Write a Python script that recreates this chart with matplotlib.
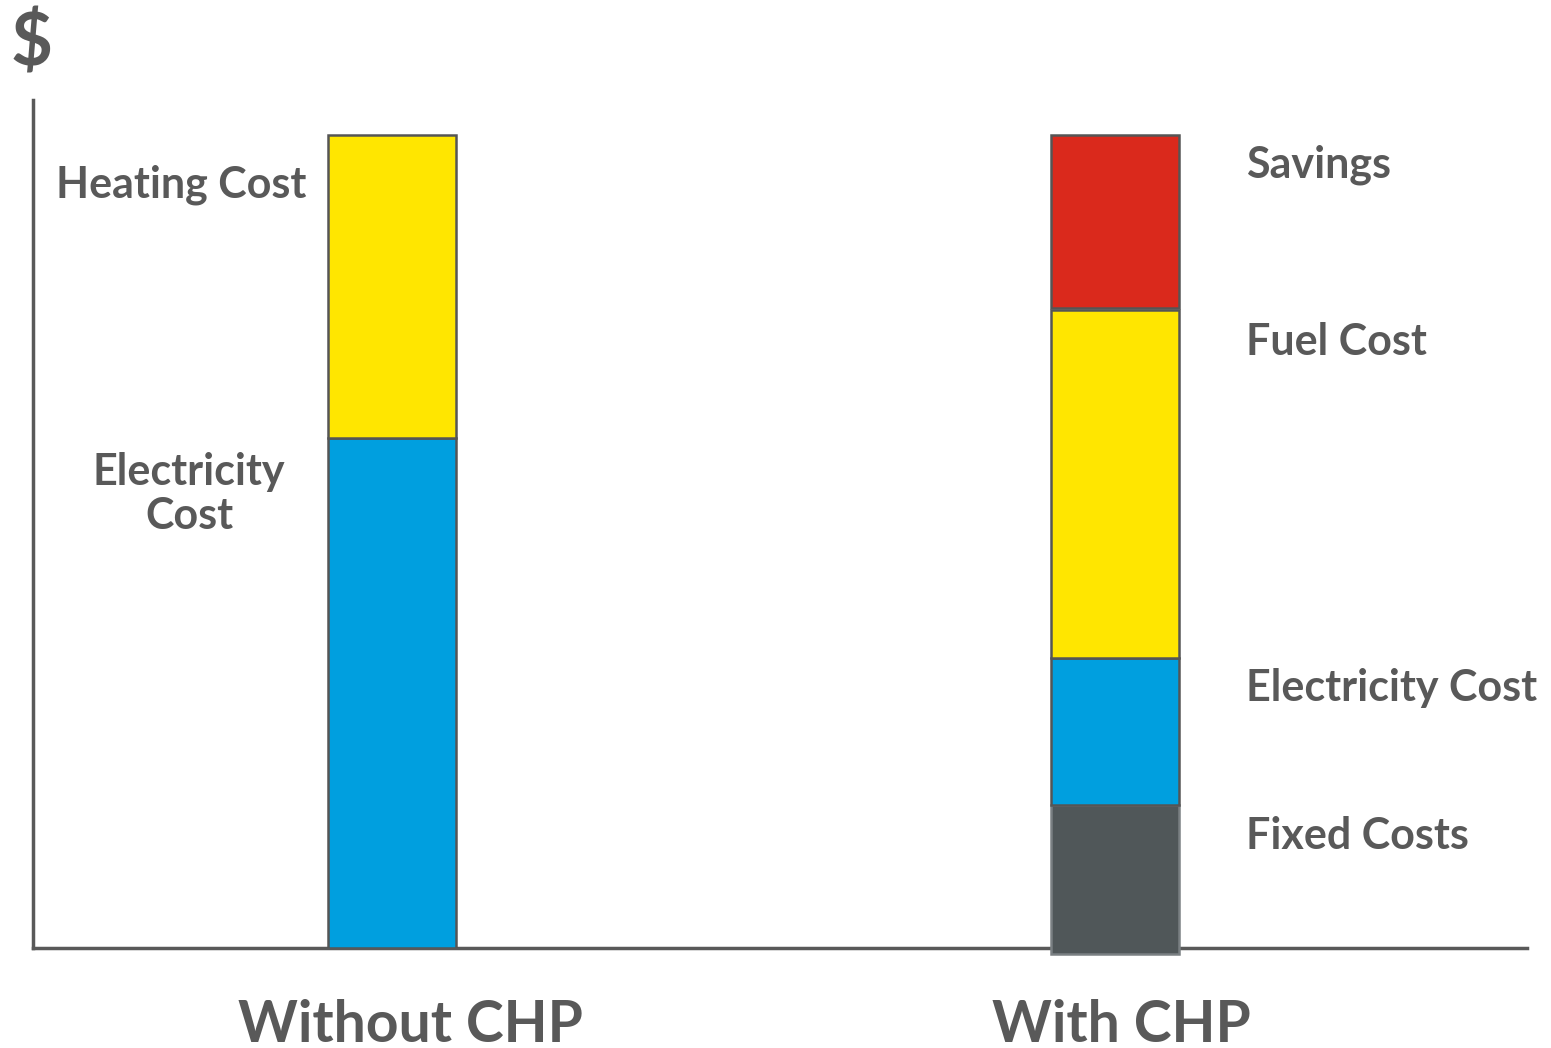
import matplotlib.pyplot as plt

# Values (arbitrary units, pixel-ish scale)
scenarios = ['Without CHP', 'With CHP']
without_parts = ['Electricity Cost', 'Heating Cost']
without_vals = [510, 303]
with_parts = ['Fixed Costs', 'Electricity Cost', 'Fuel Cost', 'Savings']
with_vals = [149, 147, 348, 173]

W, H = 1551, 1048
TXT = '#595959'
colors_without = ['#009FDF', '#FFE600']
colors_with = ['#505759', '#009FDF', '#FFE600', '#DA291C']
plt.rcParams['font.family'] = ['Lato', 'DejaVu Sans']

fig = plt.figure(figsize=(W / 100, H / 100), dpi=100)
ax = fig.add_axes([33 / W, 1 - 948 / H, (1527 - 33) / W, (948 - 100) / H])


def fx(x, y):
    return x / W, 1 - y / H


bw = 0.177
# Without CHP stack
bottom = 0
for v, c in zip(without_vals, colors_without):
    ax.bar(0, v, bw, bottom=bottom, color=c, edgecolor='#555555', linewidth=1.8, zorder=3)
    bottom += v

# With CHP stack (fixed block hangs a little below the axis)
bottom = -6
for i, (v, c) in enumerate(zip(with_vals, colors_with)):
    if with_parts[i] == 'Savings':
        bottom += 2
    ec = '#7a8083' if with_parts[i] == 'Fixed Costs' else '#555555'
    ax.bar(1, v, bw, bottom=bottom, color=c, edgecolor=ec, linewidth=1.8,
           zorder=3, clip_on=False)
    bottom += v

ax.set_xlim(-0.4965, 1.5698)
ax.set_ylim(0, 848)
for s in ['top', 'right']:
    ax.spines[s].set_visible(False)
for s in ['left', 'bottom']:
    ax.spines[s].set_color(TXT)
    ax.spines[s].set_linewidth(2.5)
ax.spines['bottom'].set_zorder(2)
ax.set_xticks([])
ax.set_yticks([])

fw = 'bold'
fs = 31
fig.text(*fx(32, 45), '$', fontsize=52, fontweight=fw, color=TXT, ha='center', va='center')
fig.text(*fx(181, 185), 'Heating Cost', fontsize=fs, fontweight=fw, color=TXT, ha='center', va='center')
fig.text(*fx(189, 494), 'Electricity\nCost', fontsize=fs, fontweight=fw, color=TXT,
         ha='center', va='center', linespacing=1.12)
for lbl, y in zip(['Savings', 'Fuel Cost', 'Electricity Cost', 'Fixed Costs'], [165, 342, 688, 836]):
    fig.text(*fx(1246, y), lbl, fontsize=fs, fontweight=fw, color=TXT, ha='left', va='center')
fig.text(*fx(410, 1026), scenarios[0], fontsize=41, fontweight=fw, color=TXT, ha='center', va='center')
fig.text(*fx(1121, 1026), scenarios[1], fontsize=41, fontweight=fw, color=TXT, ha='center', va='center')

fig.savefig('out.png', dpi=100)
